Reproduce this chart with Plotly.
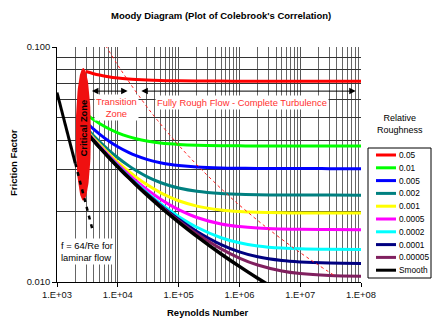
import numpy as np
import plotly.graph_objects as go

# Reynolds numbers at which the Colebrook friction factors are tabulated
reynolds = [3e3, 4e3, 5e3, 7e3, 1e4, 1.5e4, 2e4, 3e4, 5e4, 7e4, 1e5, 2e5, 5e5,
            1e6, 2e6, 5e6, 1e7, 3e7, 1e8]

# Relative roughness labels (legend order)
roughness_labels = ["0.05", "0.01", "0.005", "0.002", "0.001", "0.0005",
                    "0.0002", "0.0001", "0.00005", "Smooth"]

# Friction factor for each relative roughness at the Reynolds numbers above
f_005 = [0.07867, 0.07699, 0.07595, 0.07473, 0.07380, 0.07306, 0.07269, 0.07231, 0.07201, 0.07188,
         0.07178, 0.07167, 0.07160, 0.07157, 0.07156, 0.07156, 0.07155, 0.07155, 0.07155]
f_001 = [0.05187, 0.04908, 0.04726, 0.04499, 0.04313, 0.04155, 0.04071, 0.03982, 0.03908, 0.03875,
         0.03850, 0.03821, 0.03803, 0.03796, 0.03793, 0.03792, 0.03791, 0.03791, 0.03790]
f_0005 = [0.04784, 0.04471, 0.04261, 0.03993, 0.03763, 0.03560, 0.03447, 0.03324, 0.03217, 0.03169,
          0.03131, 0.03085, 0.03056, 0.03047, 0.03042, 0.03039, 0.03038, 0.03037, 0.03037]
f_0002 = [0.04529, 0.04189, 0.03957, 0.03651, 0.03379, 0.03127, 0.02979, 0.02809, 0.02651, 0.02573,
          0.02511, 0.02431, 0.02379, 0.02361, 0.02351, 0.02346, 0.02344, 0.02343, 0.02342]
f_0001 = [0.04441, 0.04091, 0.03850, 0.03529, 0.03238, 0.02961, 0.02795, 0.02597, 0.02402, 0.02302,
          0.02217, 0.02103, 0.02024, 0.01994, 0.01979, 0.01970, 0.01967, 0.01965, 0.01964]
f_00005 = [0.04397, 0.04041, 0.03795, 0.03466, 0.03164, 0.02873, 0.02695, 0.02478, 0.02256, 0.02138,
           0.02033, 0.01882, 0.01766, 0.01721, 0.01696, 0.01681, 0.01675, 0.01672, 0.01670]
f_00002 = [0.04370, 0.04011, 0.03762, 0.03427, 0.03119, 0.02818, 0.02632, 0.02402, 0.02159, 0.02024,
           0.01901, 0.01710, 0.01543, 0.01468, 0.01424, 0.01394, 0.01384, 0.01377, 0.01374]
f_00001 = [0.04361, 0.04001, 0.03750, 0.03414, 0.03104, 0.02799, 0.02610, 0.02375, 0.02125, 0.01983,
           0.01851, 0.01641, 0.01443, 0.01344, 0.01280, 0.01234, 0.01217, 0.01204, 0.01200]
f_000005 = [0.04356, 0.03996, 0.03745, 0.03408, 0.03096, 0.02790, 0.02599, 0.02362, 0.02107, 0.01962,
            0.01826, 0.01604, 0.01384, 0.01265, 0.01181, 0.01114, 0.01086, 0.01065, 0.01058]
f_smooth = [0.04352, 0.03991, 0.03739, 0.03401, 0.03088, 0.02781, 0.02588, 0.02348, 0.02089, 0.01940,
            0.01799, 0.01564, 0.01316, 0.01165, 0.01037, 0.008981, 0.008103, 0.006948, 0.00594]

friction_series = [f_005, f_001, f_0005, f_0002, f_0001, f_00005, f_00002, f_00001, f_000005, f_smooth]

# Laminar flow line f = 64/Re (solid part, then dashed extension)
laminar_re = [1000, 2000]
laminar_f = [0.064, 0.032]
laminar_ext_re = [2000, 3800]
laminar_ext_f = [0.032, 0.01684]

# Boundary between transition and fully rough zones
boundary_re = [6270, 9850, 15000, 27900, 45300, 103000, 230000, 653000, 1430000, 3100000,
               8530000, 18300000, 39000000]
boundary_f = [0.1017, 0.0842, 0.07155, 0.05717, 0.04864, 0.0379, 0.03037, 0.02342, 0.01964,
              0.0167, 0.01373, 0.01198, 0.01054]

# Axis tick labels
x_tickvals = [1e3, 1e4, 1e5, 1e6, 1e7, 1e8]
x_ticktext = ["1.E+03", "1.E+04", "1.E+05", "1.E+06", "1.E+07", "1.E+08"]
y_tickvals = [0.01, 0.1]
y_ticktext = ["0.010", "0.100"]

colors = ["#ff0000", "#00ff00", "#0000ff", "#008080", "#ffff00", "#ff00ff",
          "#00ffff", "#000080", "#80205f", "#000000"]
widths = [3, 3, 3, 3, 3, 3, 3, 3, 3, 3.5]

FONT = "Arial, Liberation Sans, sans-serif"
W, H = 443, 328
L, R, T, B = 57, 361, 47, 282


def px(x):
    return (x - L) / (R - L)


def py(y):
    return (B - y) / (B - T)


fig = go.Figure()

for lab, fvals, col, w in zip(roughness_labels, friction_series, colors, widths):
    fig.add_trace(go.Scatter(x=reynolds, y=fvals, mode="lines", name=lab,
                             line=dict(color=col, width=w, shape="spline"),
                             showlegend=False, hoverinfo="skip"))

# Critical zone: filled ellipse drawn in log-log space
zone_re, zone_f = 2710, 0.0425
zone_rx, zone_ry = 0.125, 0.282   # half-axes in decades
t = np.linspace(0, 2 * np.pi, 120)
fig.add_trace(go.Scatter(
    x=10 ** (np.log10(zone_re) + zone_rx * np.cos(t)),
    y=10 ** (np.log10(zone_f) + zone_ry * np.sin(t)),
    mode="lines", fill="toself", fillcolor="#f01010",
    line=dict(color="#f01010", width=0), showlegend=False, hoverinfo="skip"))

fig.add_trace(go.Scatter(x=laminar_re, y=laminar_f, mode="lines",
                         line=dict(color="black", width=3),
                         showlegend=False, hoverinfo="skip"))
fig.add_trace(go.Scatter(x=laminar_ext_re, y=laminar_ext_f, mode="lines",
                         line=dict(color="black", width=2.5, dash="4px,5px"),
                         showlegend=False, hoverinfo="skip"))
fig.add_trace(go.Scatter(x=boundary_re, y=boundary_f, mode="lines",
                         line=dict(color="#ff2020", width=1, dash="3px,3px", shape="spline"),
                         showlegend=False, hoverinfo="skip"))

annotations = [
    dict(text="<b>Moody Diagram (Plot of Colebrook's Correlation)</b>",
         x=px(221), y=py(16), font=dict(size=9.5)),
    dict(text="<b>Reynolds Number</b>", x=px(208), y=py(312), font=dict(size=9.5)),
    dict(text="<b>Friction Factor</b>", x=px(13), y=py(163), textangle=-90,
         font=dict(size=9.5)),
    dict(text="Relative<br>Roughness", x=px(400), y=py(123.5), font=dict(size=9)),
    dict(text="Transition<br>Zone", x=px(116), y=py(107), font=dict(size=9.4, color="#ff3030"),
         bgcolor="white", borderpad=1),
    dict(text="Fully Rough Flow - Complete Turbulence", x=px(241.5), y=py(102),
         font=dict(size=9.4, color="#ff3030"), bgcolor="white", borderpad=1),
    dict(text="<b>Critical Zone</b>", x=px(83), y=py(128.5), textangle=-90,
         font=dict(size=9.4, color="black")),
    dict(text="f = 64/Re for<br>laminar flow", x=px(59), y=py(251), xanchor="left",
         align="left", font=dict(size=9.4), bgcolor="white", borderpad=1),
]
for a in annotations:
    a.setdefault("xref", "paper")
    a.setdefault("yref", "paper")
    a.setdefault("showarrow", False)
    a.setdefault("xanchor", "center")
    a.setdefault("yanchor", "middle")

# Zone extent arrows
arrow_f = 0.0649
for re0, re1 in [(3550, 14500), (23000, 8.2e7)]:
    annotations.append(dict(
        x=np.log10(re1), y=np.log10(arrow_f), ax=np.log10(re0), ay=np.log10(arrow_f),
        xref="x", yref="y", axref="x", ayref="y", text="", showarrow=True,
        arrowhead=2, arrowside="end+start", arrowsize=1.3, arrowwidth=1,
        arrowcolor="black"))

# Legend built from shapes and text
shapes = [dict(type="rect", xref="paper", yref="paper", x0=px(368), x1=px(431),
               y0=py(148), y1=py(278), line=dict(color="black", width=1),
               fillcolor="white", layer="above")]
for i, (lab, col) in enumerate(zip(roughness_labels, colors)):
    yy = 155 + i * 12.8
    shapes.append(dict(type="line", xref="paper", yref="paper", x0=px(376), x1=px(396),
                       y0=py(yy), y1=py(yy), line=dict(color=col, width=3), layer="above"))
    annotations.append(dict(text=lab, x=px(397), y=py(yy), xref="paper", yref="paper",
                            showarrow=False, xanchor="left", yanchor="middle",
                            font=dict(size=8.3)))

minor_x = [m * 10 ** k for k in range(3, 8) for m in range(2, 10)]
minor_y = [m / 100 for m in range(2, 10)]

fig.update_layout(
    width=W, height=H,
    margin=dict(l=L, r=W - R, t=T, b=H - B),
    paper_bgcolor="white", plot_bgcolor="white",
    font=dict(family=FONT, size=9.4, color="black"),
    showlegend=False,
    annotations=annotations, shapes=shapes,
    xaxis=dict(type="log", range=[3, 8], tickvals=x_tickvals, ticktext=x_ticktext,
               showgrid=True, gridcolor="#555555", gridwidth=1,
               minor=dict(tickvals=minor_x, showgrid=True, gridcolor="#666666",
                          gridwidth=1, ticks=""),
               showline=True, linecolor="black", linewidth=1,
               ticks="outside", ticklen=4, tickcolor="black", zeroline=False,
               tickfont=dict(size=9.4, color="#111111")),
    yaxis=dict(type="log", range=[-2, -1], tickvals=y_tickvals, ticktext=y_ticktext,
               showgrid=True, gridcolor="#777777", gridwidth=1,
               minor=dict(tickvals=minor_y, showgrid=True, gridcolor="#333333",
                          gridwidth=1, ticks=""),
               showline=True, linecolor="black", linewidth=1,
               ticks="outside", ticklen=4, tickcolor="black", zeroline=False,
               tickfont=dict(size=9.4, color="#111111")),
)

fig.write_html("out.html")
